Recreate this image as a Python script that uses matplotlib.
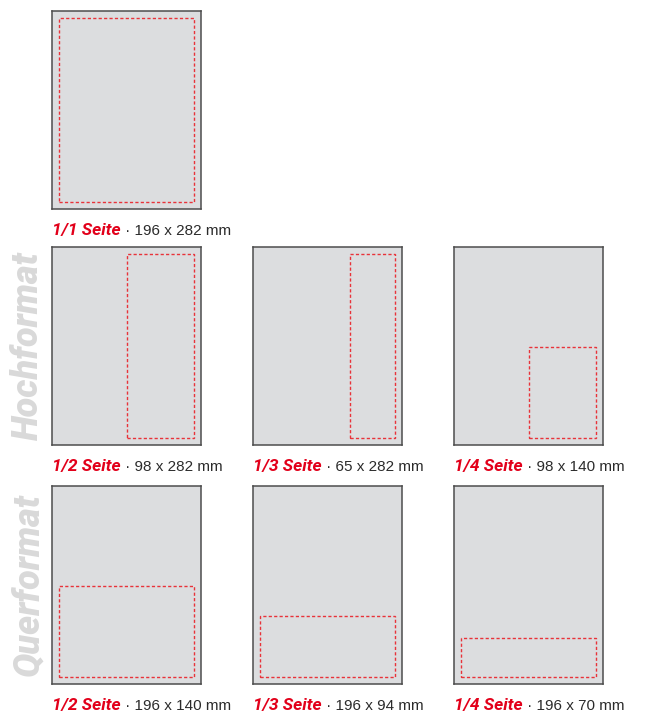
import matplotlib
matplotlib.use('Agg')
import matplotlib.pyplot as plt
from matplotlib.patches import Rectangle

# page and type area in mm
page_w, page_h = 215, 303
area_x, area_y = 9.5, 10.5
area_w, area_h = 196, 282

# ad formats: label, size text, box size (mm, as drawn), anchor in type area
names = ['1/1 Seite', '1/2 Seite', '1/3 Seite', '1/4 Seite',
         '1/2 Seite', '1/3 Seite', '1/4 Seite']
sizes = ['196 x 282 mm', '98 x 282 mm', '65 x 282 mm', '98 x 140 mm',
         '196 x 140 mm', '196 x 94 mm', '196 x 70 mm']
box_w = [196, 98, 65, 98, 196, 196, 196]
box_h = [282, 282, 282, 140, 140, 94, 60]
anchor = ['left', 'right', 'right', 'right', 'left', 'left', 'left']
grid_pos = [(0, 0), (1, 0), (1, 1), (1, 2), (2, 0), (2, 1), (2, 2)]
groups = ['Hochformat', 'Querformat']

RED = '#e2001a'
BOLD_FONT = ['Roboto', 'DejaVu Sans']
PLAIN_FONT = ['Liberation Sans', 'DejaVu Sans']

W, H = 645, 714
fig = plt.figure(figsize=(W / 100, H / 100), dpi=100)

col_x = [52, 253, 454]
row_top = [11, 247, 486]
pw, ph = 149, 198

axes = {}
for i, (r, c) in enumerate(grid_pos):
    ax = fig.add_axes([col_x[c] / W, (H - row_top[r] - ph) / H, pw / W, ph / H])
    ax.set_xlim(0, page_w)
    ax.set_ylim(0, page_h)
    ax.set_facecolor('#dcdddf')
    ax.set_xticks([])
    ax.set_yticks([])
    for s in ax.spines.values():
        s.set_color('#4d4d4d')
        s.set_linewidth(1.1)
    bx = area_x if anchor[i] == 'left' else area_x + area_w - box_w[i]
    ax.add_patch(Rectangle((bx, area_y), box_w[i], box_h[i], fill=False,
                           edgecolor='#e8333a', linewidth=1.0,
                           linestyle=(0, (2.3, 1.6))))
    t1 = ax.annotate(names[i], xy=(0, 0), xycoords='axes fraction',
                     xytext=(0, -26), textcoords='offset pixels',
                     ha='left', va='baseline', color=RED, fontsize=12.5,
                     fontweight='bold', fontstyle='italic', family=BOLD_FONT,
                     annotation_clip=False)
    ax.annotate(' \u00b7 ' + sizes[i], xy=(1, 0), xycoords=t1,
                ha='left', va='bottom', color='#2b2b2b', fontsize=11,
                family=PLAIN_FONT, annotation_clip=False)
    axes[(r, c)] = ax

for k, g in enumerate(groups):
    ax = axes[(k + 1, 0)]
    ax.annotate(g, xy=(0, 0.5), xycoords='axes fraction',
                xytext=(-24, 0), textcoords='offset pixels',
                rotation=90, ha='center', va='center', color='#d9d9d9',
                fontsize=26, fontweight=900, fontstyle='italic',
                family=BOLD_FONT, annotation_clip=False)

fig.savefig('out.png', dpi=100)
